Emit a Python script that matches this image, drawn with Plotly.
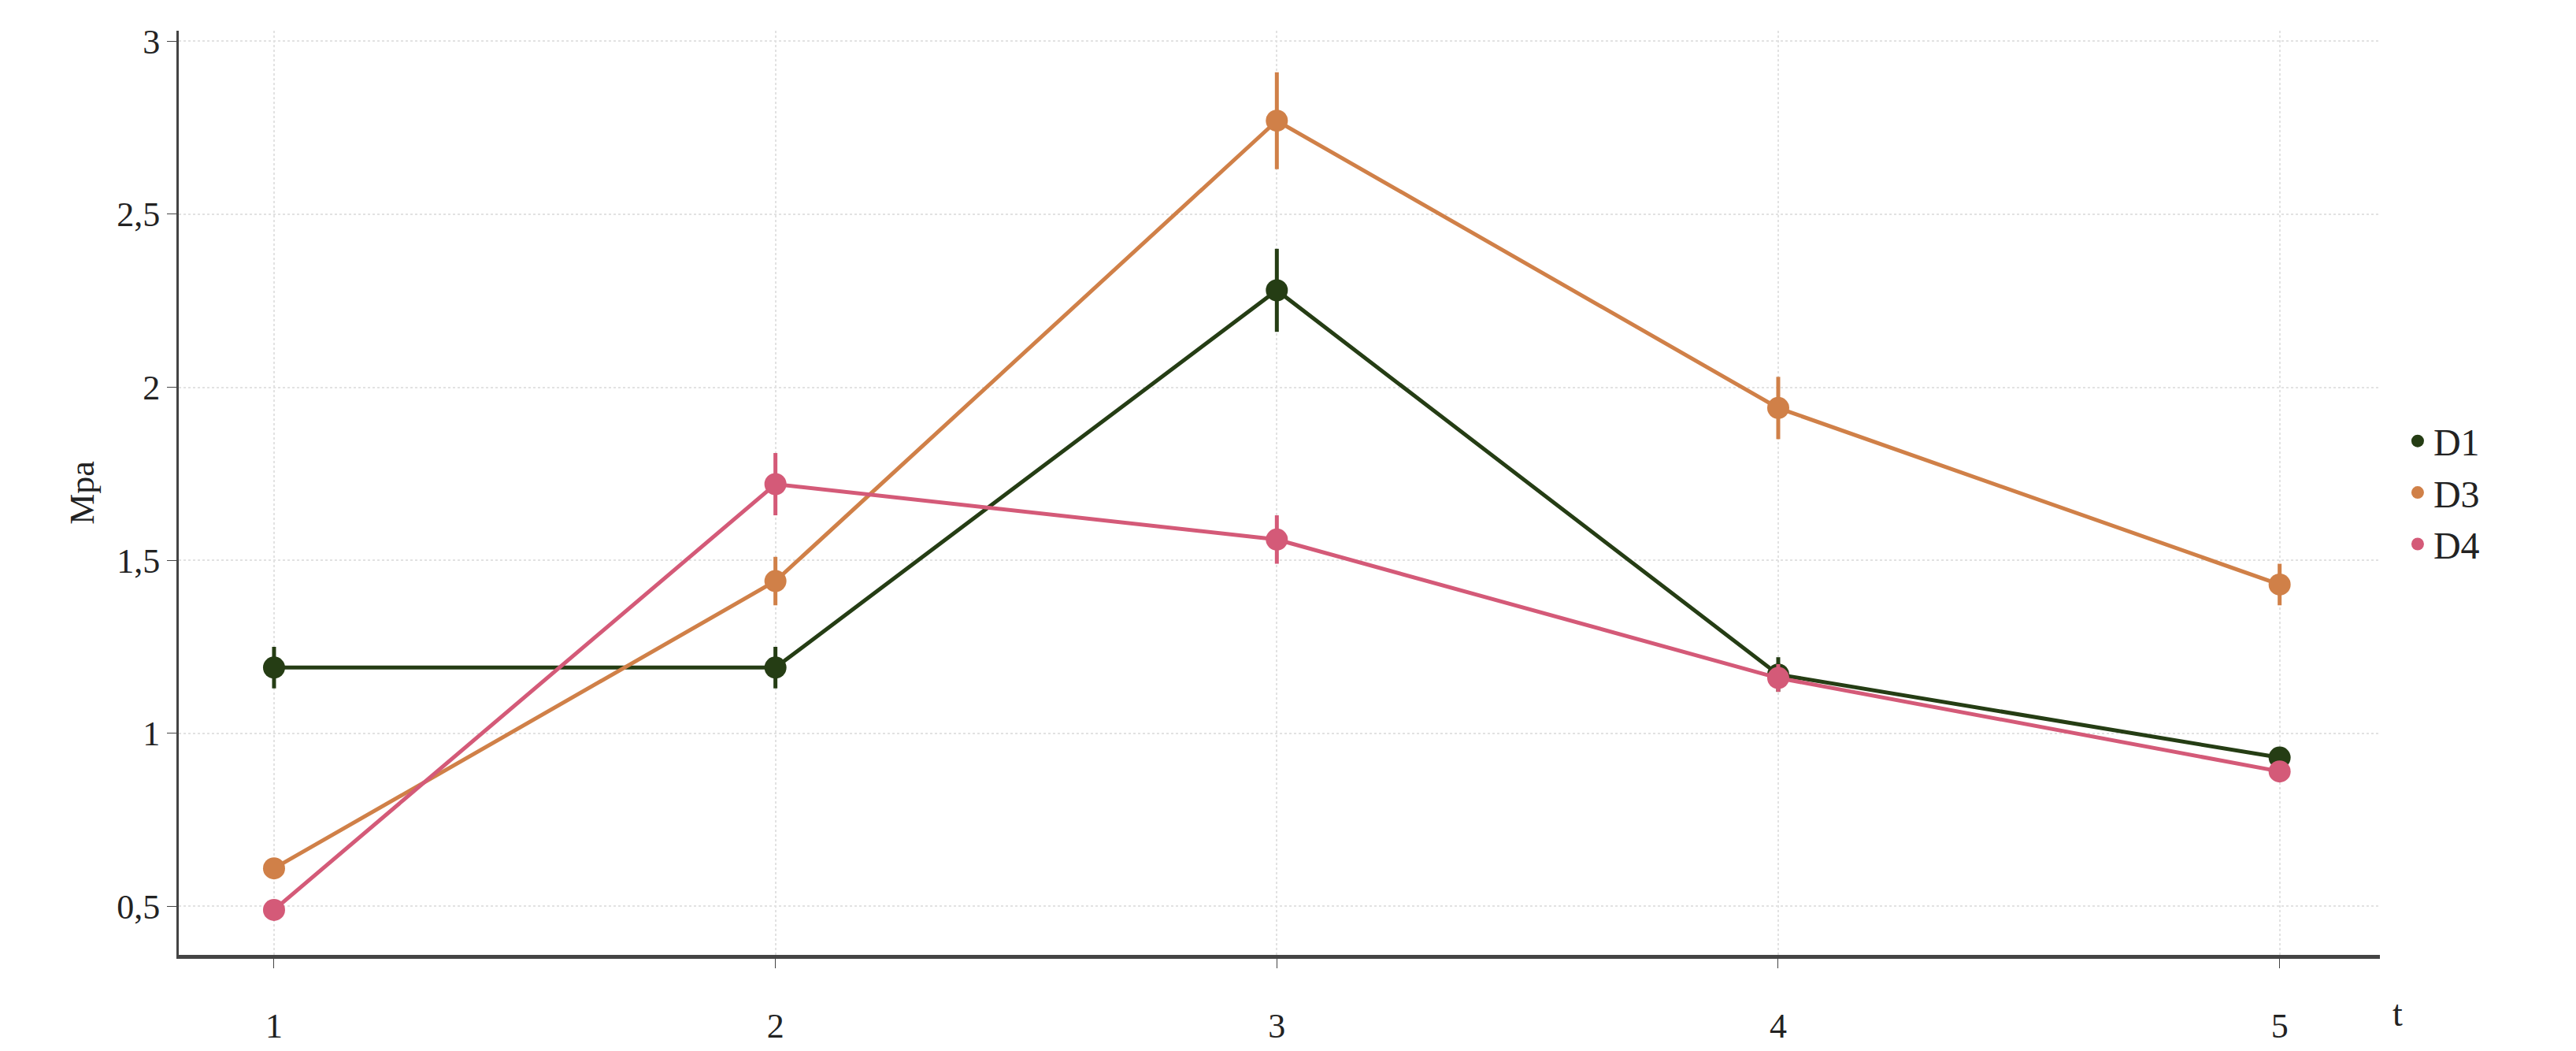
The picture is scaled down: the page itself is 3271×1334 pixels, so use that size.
import plotly.graph_objects as go

t = [1, 2, 3, 4, 5]
series = ["D1", "D3", "D4"]
d1 = [1.19, 1.19, 2.28, 1.17, 0.93]
d1_err = [0.06, 0.06, 0.12, 0.05, 0.03]
d3 = [0.61, 1.44, 2.77, 1.94, 1.43]
d3_err = [0.03, 0.07, 0.14, 0.09, 0.06]
d4 = [0.49, 1.72, 1.56, 1.16, 0.89]
d4_err = [0.02, 0.09, 0.07, 0.04, 0.02]
colors = ["#253d14", "#d08048", "#d45a78"]

fig = go.Figure()
for name, y, err, c in zip(series, [d1, d3, d4], [d1_err, d3_err, d4_err], colors):
    fig.add_trace(go.Scatter(
        x=t, y=y, name=name, mode="lines+markers", showlegend=False,
        line=dict(color=c, width=5),
        marker=dict(color=c, size=28),
        error_y=dict(type="data", array=err, color=c, thickness=5, width=0),
    ))
    # legend entry: marker only
    fig.add_trace(go.Scatter(x=[None], y=[None], name=name, mode="markers",
                             marker=dict(color=c, size=30)))

font = "Liberation Serif"
fig.update_layout(
    width=3271, height=1334,
    margin=dict(l=219, r=257, t=31, b=130),
    plot_bgcolor="white", paper_bgcolor="white",
    font=dict(family=font, size=44, color="#222"),
    legend=dict(x=1.01, y=0.5, yanchor="middle", xanchor="left",
                font=dict(size=48), tracegroupgap=70),
    annotations=[dict(text="t", x=1.005, y=-0.04, xref="paper", yref="paper",
                      xanchor="left", yanchor="top", showarrow=False,
                      font=dict(size=46))],
)
fig.update_xaxes(range=[0.81, 5.2], tickvals=t, showline=True, linecolor="#444",
                 linewidth=5, ticks="outside", ticklen=12, tickcolor="#444",
                 showgrid=True, gridcolor="#e2e2e2", griddash="dot", gridwidth=2,
                 zeroline=False, ticklabelstandoff=35)
fig.update_yaxes(range=[0.36, 3.03], tickvals=[0.5, 1, 1.5, 2, 2.5, 3],
                 ticktext=["0,5", "1", "1,5", "2", "2,5", "3"],
                 title=dict(text="Mpa", font=dict(size=44), standoff=15),
                 showline=True, linecolor="#444", linewidth=3, ticks="outside",
                 ticklen=12, tickcolor="#444", showgrid=True, gridcolor="#e2e2e2",
                 griddash="dot", gridwidth=2, zeroline=False)

fig.write_html("out.html")
